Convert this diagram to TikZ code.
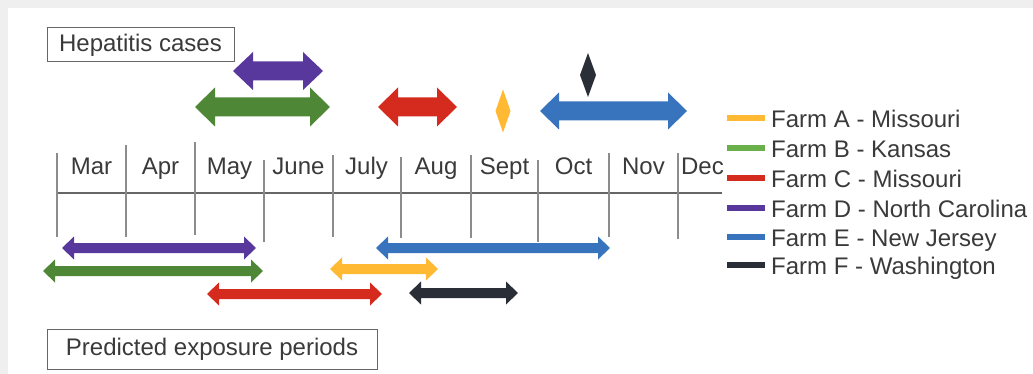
\documentclass[tikz,border=0pt]{standalone}
\usepackage{fontspec}
\setmainfont{Liberation Sans}
\definecolor{txt}{HTML}{3A3A3A}
\definecolor{cpurple}{HTML}{58389C}
\definecolor{cgreen}{HTML}{4E8837}
\definecolor{cgreenl}{HTML}{6AB04A}
\definecolor{cred}{HTML}{D42B1E}
\definecolor{corange}{HTML}{FFB932}
\definecolor{cblue}{HTML}{3874BE}
\definecolor{cblack}{HTML}{2A2E36}
\definecolor{bgg}{HTML}{EFEFEF}
\newcommand\dblarr[7]{%
  \fill[#7] (#1,#3) -- (#1+#6,#3-#5) -- (#1+#6,#3-#4) -- (#2-#6,#3-#4) -- (#2-#6,#3-#5)
   -- (#2,#3) -- (#2-#6,#3+#5) -- (#2-#6,#3+#4) -- (#1+#6,#3+#4) -- (#1+#6,#3+#5) -- cycle;}
\newcommand\diam[5]{%
  \fill[#5] (#1,#2-#4) -- (#1+#3,#2) -- (#1,#2+#4) -- (#1-#3,#2) -- cycle;}
\begin{document}
\begin{tikzpicture}[x=1pt,y=-1pt,
  every node/.style={text=txt,font=\fontsize{24}{28}\selectfont},
  labbox/.style={draw=black!60,line width=1pt,inner sep=0pt},
  month/.style={anchor=base,inner sep=0pt},
  sep/.style={draw=black!45,line width=1.1pt},
  leg/.style={line width=6pt},
  legtxt/.style={anchor=base west,inner sep=0pt}]
\useasboundingbox (0,0) rectangle (1033,374);
\fill[bgg] (0,0) rectangle (1033,374);
\fill[white] (8,8) rectangle (1033,374);

% boxes
\node[labbox,minimum width=187pt,minimum height=34pt] (hep) at (140.5,45) {Hepatitis cases};
\node[labbox,minimum width=330pt,minimum height=40pt] (pred) at (212,349) {Predicted exposure periods};

% timeline
\draw[draw=black!60,line width=1.1pt] (57,193) -- (722,193);
\foreach \x/\t/\b in {57/153/237,126/145/237,195/142/235,264/160/242,333/155/237,401/157/238,471/155/238,538/160/242,609/153/237,678/153/239}
  \draw[sep] (\x,\t) -- (\x,\b);
\foreach \x/\m in {91.5/Mar,160.5/Apr,229.5/May,298.5/June,366.5/July,436/Aug,504.5/Sept,573.5/Oct,643.5/Nov,702.5/Dec}
  \node[month] (m\m) at (\x,174.5) {\m};

% hepatitis case arrows
\dblarr{233}{323}{71}{9.5}{19}{20}{cpurple}
\dblarr{195}{330}{107}{9.5}{19.5}{20}{cgreen}
\dblarr{378}{457}{107}{9.5}{19.5}{20}{cred}
\dblarr{540}{687}{111}{9.5}{18.5}{19}{cblue}
\diam{503}{111}{7.5}{21.5}{corange}
\diam{588}{75}{8}{22}{cblack}

% exposure arrows
\dblarr{62}{256}{248}{5}{11.5}{12}{cpurple}
\dblarr{43}{263}{271}{5}{11.5}{12}{cgreen}
\dblarr{207}{382}{294}{5}{11.5}{12}{cred}
\dblarr{330}{438}{269}{5}{11.5}{12}{corange}
\dblarr{376}{610}{248}{5}{11.5}{12}{cblue}
\dblarr{409}{518}{293}{5}{11.5}{12}{cblack}

% legend
\foreach \yy/\c/\t [count=\i] in {118/corange/Farm A - Missouri,148/cgreenl/Farm B - Kansas,178/cred/Farm C - Missouri,208/cpurple/Farm D - North Carolina,237/cblue/Farm E - New Jersey,265/cblack/Farm F - Washington}{
  \draw[leg,\c] (727,\yy) -- (765,\yy);
  \node[legtxt] (leg\i) at (771,\yy+9.5) {\t};
}
\end{tikzpicture}
\end{document}
